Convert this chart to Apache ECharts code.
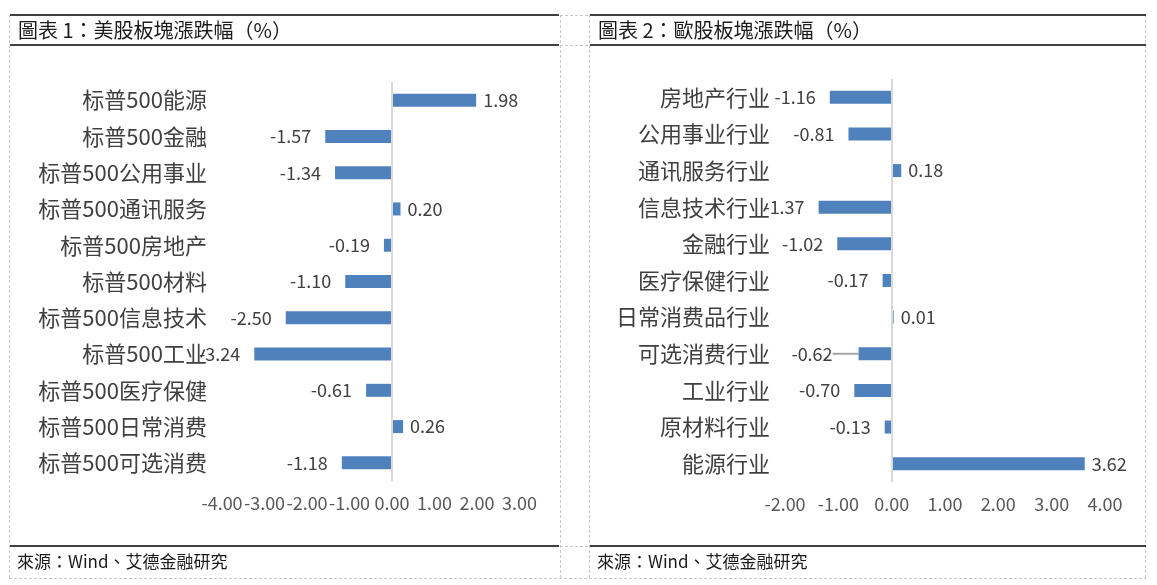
<!DOCTYPE html>
<html>
<head>
<meta charset="utf-8">
<script src="https://cdn.jsdelivr.net/npm/echarts@6/dist/echarts.min.js"></script>
<style>
html,body{margin:0;padding:0;background:#fff;}
#chart{width:1157px;height:585px;}
</style>
</head>
<body>
<div id="chart"></div>
<script>
// ---- data ----
const usTitle = '圖表 1：美股板塊漲跌幅（%）';
const euTitle = '圖表 2：歐股板塊漲跌幅（%）';
const sourceText = '來源：Wind、艾德金融研究';

const usCategories = ['标普500能源','标普500金融','标普500公用事业','标普500通讯服务','标普500房地产','标普500材料','标普500信息技术','标普500工业','标普500医疗保健','标普500日常消费','标普500可选消费'];
const usValues = [1.98, -1.57, -1.34, 0.20, -0.19, -1.10, -2.50, -3.24, -0.61, 0.26, -1.18];

const euCategories = ['房地产行业','公用事业行业','通讯服务行业','信息技术行业','金融行业','医疗保健行业','日常消费品行业','可选消费行业','工业行业','原材料行业','能源行业'];
const euValues = [-1.16, -0.81, 0.18, -1.37, -1.02, -0.17, 0.01, -0.62, -0.70, -0.13, 3.62];

const usTicks = {min: -4, max: 3, interval: 1};
const euTicks = {min: -2, max: 4, interval: 1};

// ---- styles ----
const BAR = '#4F81BD';
const CJK = '"Noto Sans CJK SC","Noto Sans",sans-serif';
const TITLE_FONT = '"Noto Sans CJK TC","Noto Sans CJK SC",sans-serif';
const euLeaderIndex = 7; // label displaced with a leader line in the original

function barData(vals, leaderIdx){
  return vals.map((v, i) => {
    const item = {
      value: v,
      label: {position: v < 0 ? 'left' : 'right', distance: v < 0 ? 14 : 7}
    };
    if (i === leaderIdx) {
      item.labelLine = {show: true, lineStyle: {color: '#a6a6a6', width: 2}};
    }
    return item;
  });
}

function xAxisOf(gi, t){
  return {
    gridIndex: gi, type: 'value', min: t.min, max: t.max, interval: t.interval,
    axisLine: {show: false}, axisTick: {show: false}, splitLine: {show: false},
    axisLabel: {color: '#595959', fontSize: 18, fontFamily: CJK, margin: 13,
      formatter: v => v.toFixed(2)}
  };
}
function yAxisOf(gi, cats){
  return {
    gridIndex: gi, type: 'category', data: cats, inverse: true,
    axisLine: {show: false}, axisTick: {show: false},
    axisLabel: {color: '#404040', fontSize: 22, fontFamily: CJK, margin: 15}
  };
}
function seriesOf(i, vals, leaderIdx){
  return {
    type: 'bar', xAxisIndex: i, yAxisIndex: i, data: barData(vals, leaderIdx),
    barWidth: 13, barMinHeight: 2, itemStyle: {color: BAR},
    label: {show: true, color: '#404040', fontSize: 18, fontFamily: CJK,
      formatter: p => p.value.toFixed(2)},
    labelLayout: p => (p.dataIndex === leaderIdx ? {dx: -12} : {}),
    markLine: {silent: true, symbol: 'none', label: {show: false},
      lineStyle: {color: '#d9d9d9', width: 2, type: 'solid'},
      data: [{xAxis: 0}]}
  };
}

function hline(x1, x2, y, w, dash){
  return {type: 'line', shape: {x1, y1: y, x2, y2: y},
    style: {stroke: dash ? '#c8c8c8' : '#000', lineWidth: w, lineDash: dash ? [3,2] : null}};
}
function vline(x, y1, y2){
  return {type: 'line', shape: {x1: x, y1, x2: x, y2},
    style: {stroke: '#c8c8c8', lineWidth: 1, lineDash: [3,2]}};
}
function txt(x, y, s, size){
  return {type: 'text', x, y, style: {text: s, fill: '#1a1a1a', font: size + 'px ' + TITLE_FONT,
    textVerticalAlign: 'middle'}};
}

const chart = echarts.init(document.getElementById('chart'), null, {renderer: 'canvas'});
chart.setOption({
  backgroundColor: '#fff',
  animation: false,
  grid: [
    {left: 222, right: 1157 - 519.5, top: 82, bottom: 585 - 481},
    {left: 785, right: 1157 - 1105, top: 79, bottom: 585 - 482}
  ],
  xAxis: [xAxisOf(0, usTicks), xAxisOf(1, euTicks)],
  yAxis: [yAxisOf(0, usCategories), yAxisOf(1, euCategories)],
  series: [seriesOf(0, usValues, -1), seriesOf(1, euValues, euLeaderIndex)],
  graphic: [
    vline(9.5, 15, 578), vline(560.5, 15, 578), vline(589.5, 15, 578), vline(1145.5, 15, 578),
    hline(9, 1146, 578.5, 1, true), hline(560, 590, 15.5, 1, true), hline(560, 590, 45.5, 1, true),
    hline(560, 590, 546.5, 1, true),
    hline(10, 559, 15, 1.5), hline(10, 559, 45, 1.5), hline(10, 559, 546, 1.5),
    hline(590, 1146, 15, 1.5), hline(590, 1146, 45, 1.5), hline(590, 1146, 546, 1.5),
    txt(18, 30, usTitle, 20), txt(598, 30, euTitle, 20),
    txt(17, 562, sourceText, 17), txt(597, 562, sourceText, 17)
  ]
});
</script>
</body>
</html>
